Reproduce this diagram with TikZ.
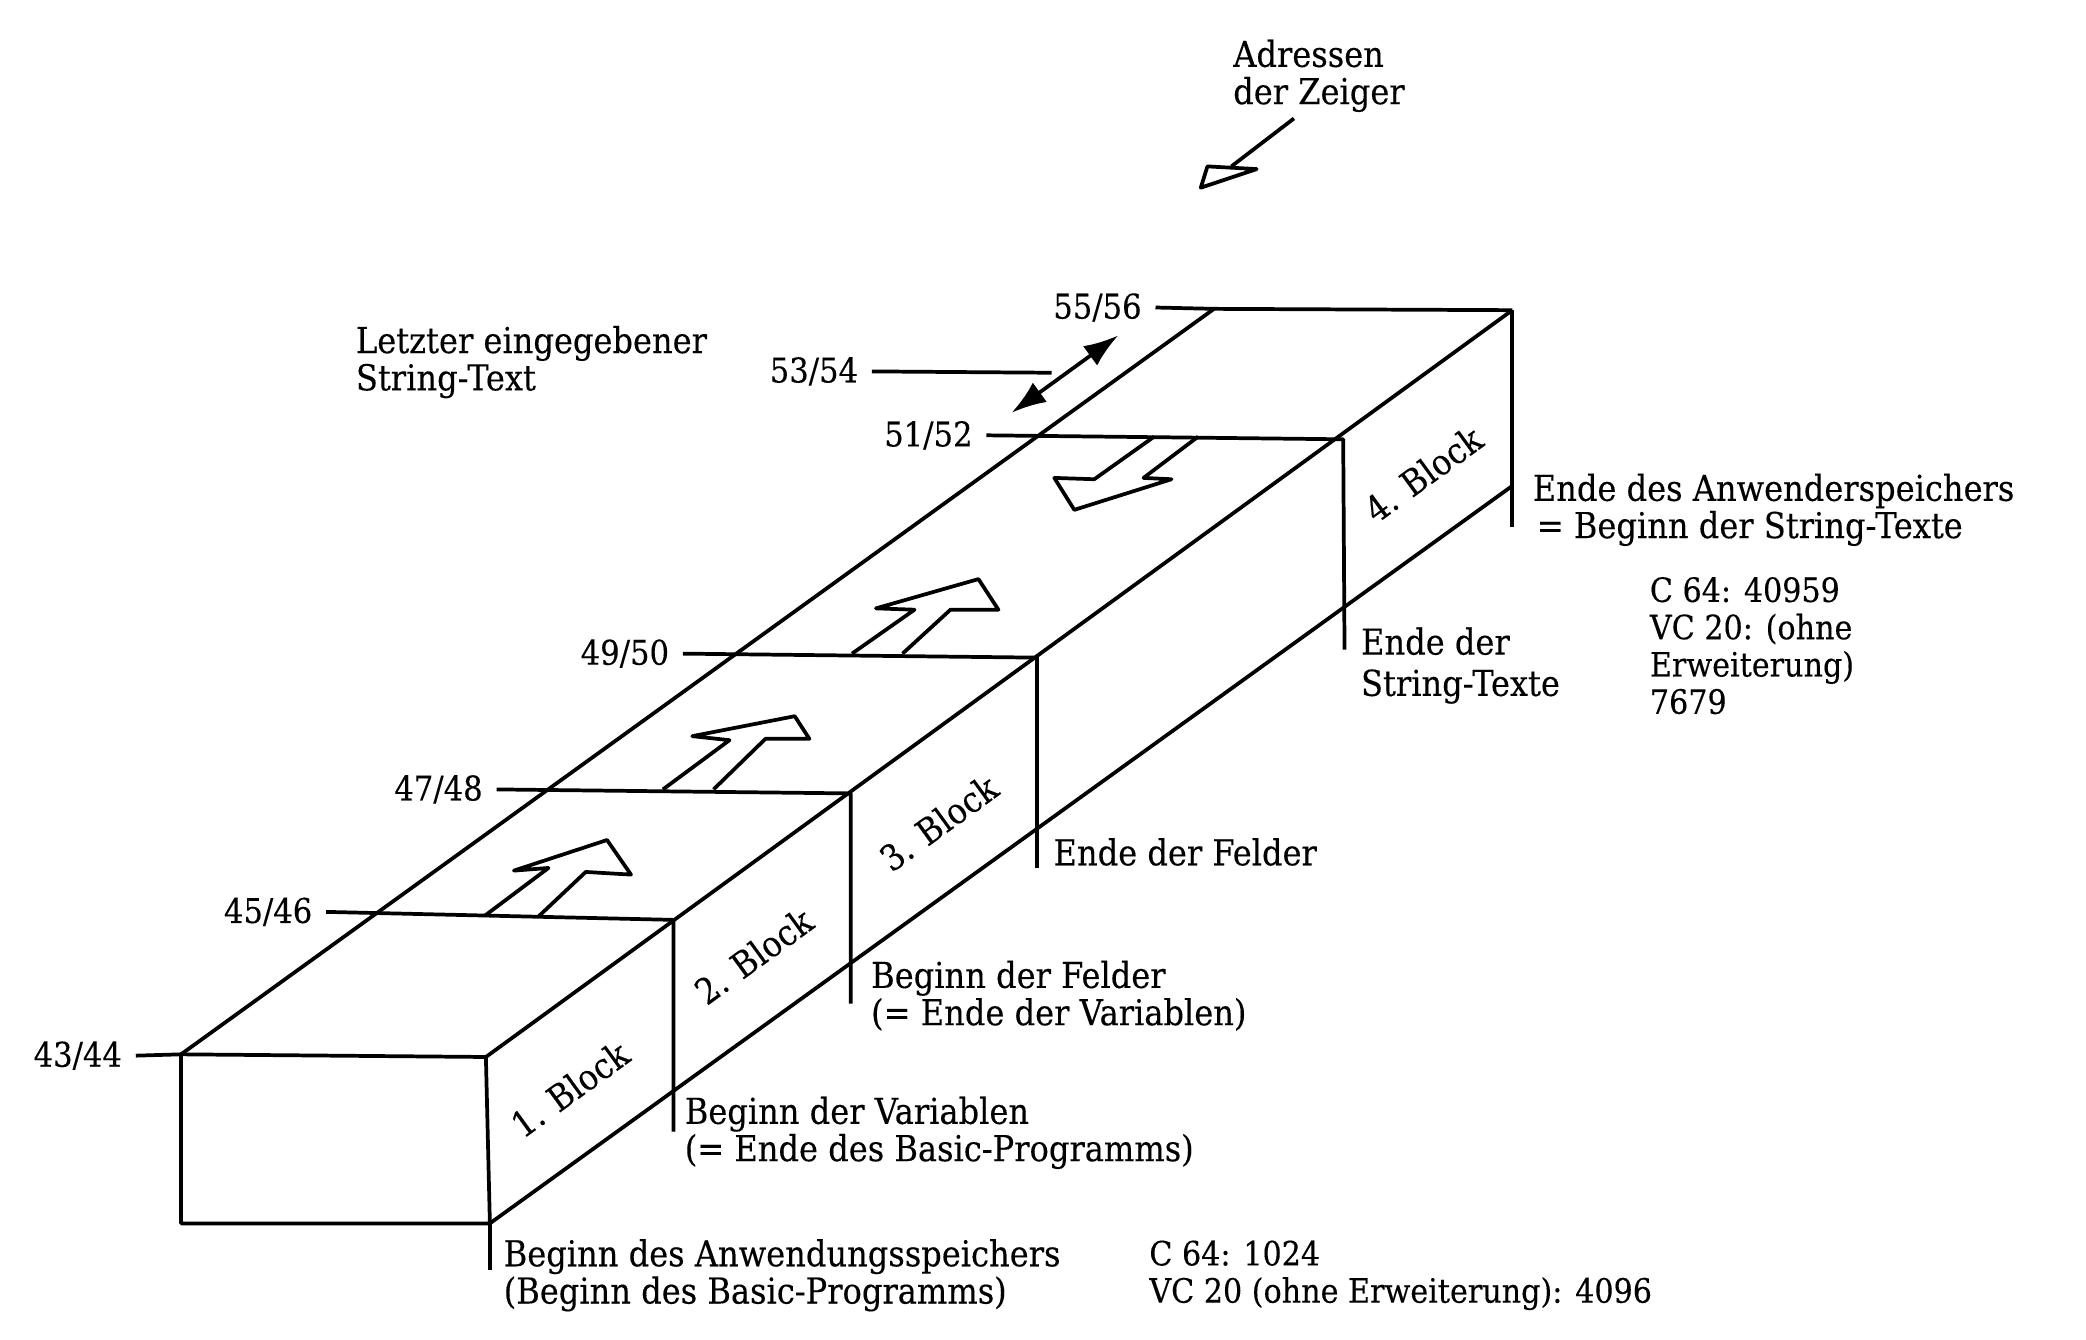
\documentclass[tikz,border=0pt]{standalone}
\usepackage{fontspec}
\setmainfont[FakeBold=0.25]{DejaVu Serif Condensed}
\usetikzlibrary{arrows.meta}

\begin{document}
\begin{tikzpicture}[x=0.5pt,y=-0.5pt,line width=1.4pt,line join=round,
    every node/.style={font=\fontsize{13.4}{14}\selectfont,inner sep=0pt},
    lbl/.style={anchor=west,align=left},
    numlbl/.style={lbl,font=\fontsize{12.6}{14}\selectfont},
    addr/.style={inner xsep=4.5pt,font=\fontsize{12.8}{14}\selectfont},
    blocklbl/.style={rotate=36},
    link/.style={{Latex[length=13pt,width=9pt]}-{Latex[length=13pt,width=9pt]}}]
      \useasboundingbox (0,0) rectangle (1567,1006.6);

      % corners of the box
      \coordinate (front tl) at (136,792);
      \coordinate (front tr) at (365,794);
      \coordinate (front br) at (368,919);
      \coordinate (front bl) at (136,919);
      \coordinate (back tl) at (912,232);
      \coordinate (back tr) at (1136,233);
      \coordinate (cut a) at (506,691);
      \coordinate (cut b) at (639,596);
      \coordinate (cut c) at (779,494);
      \coordinate (cut d) at (1009,330);

      % pointer addresses
      \node[addr,anchor=east] (addr 43) at (102,793) {43/44};
      \node[addr,anchor=east] (addr 45) at (245,685) {45/46};
      \node[addr,anchor=east] (addr 47) at (373,593) {47/48};
      \node[addr,anchor=east] (addr 49) at (513,491) {49/50};
      \node[addr,anchor=east] (addr 51) at (741,327) {51/52};
      \node[addr,anchor=east] (addr 53) at (655,279) {53/54};
      \node[addr,anchor=east] (addr 55) at (868,231) {55/56};

      \draw (front tl) -- (front tr) -- (front br) -- (front bl) -- cycle;
      \draw (addr 43.east) -- (front tl);
      \draw (front tl) -- (back tl);
      \draw (front tr) -- (back tr);
      \draw (addr 55.east) -- (back tl) -- (back tr);

      % cuts through the box, each with its tick below
      \draw (addr 45.east) -- (cut a) -- (506,850);
      \draw (addr 47.east) -- (cut b) -- (639,754);
      \draw (addr 49.east) -- (cut c) -- (779,652);
      \draw (addr 51.east) -- (cut d) -- (1010,488);
      \draw (back tr) -- (1136,396);
      \draw (front br) -- (368,954);
      \draw (front br) -- (1136,365);

      % arrows on the top face
      \draw (364,688) -- (412,652) -- (386,654) -- (456,631) -- (474,657) -- (440,655) -- (405,688);
      \draw (498,593) -- (548,556) -- (520,553) -- (597,538) -- (608,555) -- (575,555) -- (536,593);
      \draw (640,491) -- (687,458) -- (658,457) -- (735,435) -- (750,458) -- (714,458) -- (678,491);
      \draw (867,328) -- (822,360) -- (792,359) -- (807,383) -- (880,360) -- (859,359) -- (900,328);

      \coordinate (string top) at (840,252);
      \coordinate (string bot) at (760,310);
      \coordinate (string mid) at (790,280);
      \draw[link] (string bot) -- (string top);
      \draw (addr 53.east) -- (string mid);

      % key arrow
      \coordinate (key start) at (972,89);
      \coordinate (key end) at (925,125);
      \draw (key start) -- (key end);
      \draw (907,125) -- (944,127) -- (902,141) -- cycle;

      \node[blocklbl] (block 1) at (428,818) {1. Block};
      \node[blocklbl] (block 2) at (566,718) {2. Block};
      \node[blocklbl] (block 3) at (705,618) {3. Block};
      \node[blocklbl] (block 4) at (1069,356) {4. Block};

      \node[lbl] (key) at (925,57) {Adressen\\der Zeiger};
      \node[lbl] (last string) at (266,272) {Letzter eingegebener\\String-Text};
      \node[lbl] (user end) at (1150,383) {Ende des Anwenderspeichers\\\hspace{1.5pt}= Beginn der String-Texte};
      \node[numlbl] (user end val) at (1238,485) {C 64: 40959\\VC 20: (ohne\\Erweiterung)\\7679};
      \node[lbl] (string end) at (1021,500) {Ende der\\[1.5pt]String-Texte};
      \node[lbl] (array end) at (790,640) {Ende der Felder};
      \node[lbl] (array start) at (653,748) {Beginn der Felder\\(= Ende der Variablen)};
      \node[lbl] (var start) at (513,851) {Beginn der Variablen\\(= Ende des Basic-Programms)};
      \node[lbl] (mem start) at (377,958) {Beginn des Anwendungsspeichers\\(Beginn des Basic-Programms)};
      \node[numlbl] (mem start val) at (862,958) {C 64: 1024\\VC 20 (ohne Erweiterung): 4096};
    \end{tikzpicture}
\end{document}
